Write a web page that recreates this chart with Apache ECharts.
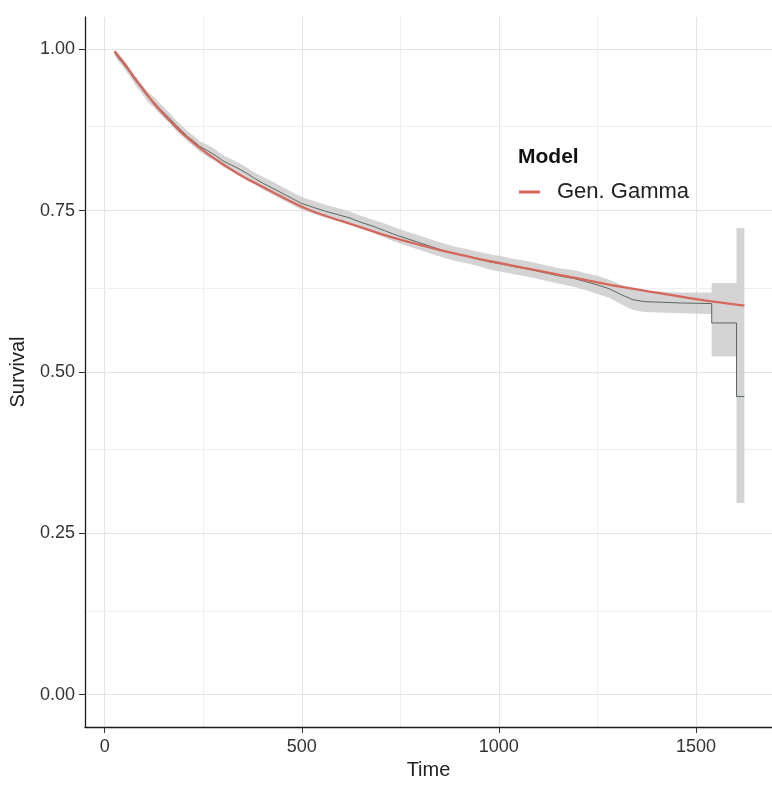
<!DOCTYPE html>
<html>
<head>
<meta charset="utf-8">
<title>Survival - Gen. Gamma</title>
<script src="https://cdn.jsdelivr.net/npm/echarts@6/dist/echarts.min.js"></script>
<style>
  html, body { margin: 0; padding: 0; background: #fff; }
  #main { width: 772px; height: 787px; }
</style>
</head>
<body>
<div id="main"></div>
<script>
// Kaplan-Meier estimate (vertices, big drops written out) and its confidence band
var kmTime = [25, 35, 45, 55, 65, 75, 85, 95, 105, 115, 125, 135, 150, 165, 180, 195, 210, 225, 240, 260,
  280, 300, 320, 340, 360, 380, 400, 425, 450, 475, 500, 530, 560, 590, 620, 650, 680, 710, 740, 770,
  800, 830, 860, 890, 920, 950, 980, 1010, 1040, 1070, 1100, 1130, 1160, 1190, 1220, 1250, 1280, 1310, 1340, 1370,
  1460, 1540, 1540, 1603, 1603, 1623];
var kmSurv = [0.995, 0.986, 0.979, 0.971, 0.963, 0.954, 0.946, 0.938, 0.930, 0.923, 0.918, 0.911, 0.902, 0.893, 0.883, 0.874, 0.865, 0.858, 0.850, 0.843,
  0.836, 0.827, 0.821, 0.815, 0.808, 0.800, 0.793, 0.785, 0.777, 0.769, 0.761, 0.755, 0.749, 0.744, 0.739, 0.732, 0.726, 0.719, 0.712, 0.706,
  0.700, 0.694, 0.688, 0.683, 0.679, 0.675, 0.670, 0.667, 0.663, 0.660, 0.656, 0.652, 0.648, 0.645, 0.640, 0.635, 0.629, 0.620, 0.612, 0.609,
  0.607, 0.606, 0.576, 0.576, 0.462, 0.462];
var kmLower = [0.991, 0.981, 0.974, 0.965, 0.957, 0.947, 0.939, 0.931, 0.922, 0.915, 0.910, 0.903, 0.894, 0.885, 0.875, 0.866, 0.857, 0.850, 0.842, 0.834,
  0.827, 0.818, 0.812, 0.806, 0.799, 0.791, 0.783, 0.775, 0.767, 0.759, 0.751, 0.745, 0.739, 0.734, 0.729, 0.722, 0.716, 0.708, 0.701, 0.695,
  0.689, 0.683, 0.677, 0.672, 0.668, 0.664, 0.658, 0.655, 0.651, 0.648, 0.644, 0.640, 0.636, 0.632, 0.627, 0.621, 0.615, 0.605, 0.596, 0.593,
  0.591, 0.590, 0.524, 0.524, 0.297, 0.297];
var kmUpper = [0.999, 0.991, 0.984, 0.977, 0.969, 0.961, 0.953, 0.945, 0.938, 0.931, 0.926, 0.919, 0.910, 0.901, 0.891, 0.882, 0.873, 0.866, 0.858, 0.852,
  0.845, 0.836, 0.830, 0.824, 0.817, 0.809, 0.803, 0.795, 0.787, 0.779, 0.771, 0.765, 0.759, 0.754, 0.749, 0.742, 0.736, 0.730, 0.723, 0.717,
  0.711, 0.705, 0.699, 0.694, 0.690, 0.686, 0.682, 0.679, 0.675, 0.672, 0.668, 0.664, 0.660, 0.658, 0.653, 0.649, 0.643, 0.635, 0.628, 0.625,
  0.623, 0.623, 0.638, 0.638, 0.723, 0.723];

// fitted generalized gamma survival curve
var ggTime = [25, 50, 75, 100, 125, 150, 175, 200, 250, 300, 350, 400, 450, 500, 550, 600, 650, 700, 750, 800,
  850, 900, 950, 1000, 1100, 1200, 1300, 1400, 1500, 1623];
var ggSurv = [0.997, 0.978, 0.956, 0.936, 0.916, 0.899, 0.883, 0.868, 0.843, 0.822, 0.803, 0.787, 0.771, 0.756, 0.744, 0.734, 0.724, 0.714, 0.705, 0.697,
  0.689, 0.682, 0.675, 0.669, 0.657, 0.645, 0.633, 0.623, 0.613, 0.603];

// axis ticks and grid
var xTicks = [0, 500, 1000, 1500];
var xMinor = [250, 750, 1250];
var yTicks = [0, 0.25, 0.5, 0.75, 1];
var yMinor = [0.125, 0.375, 0.625, 0.875];

var FONT = '"Liberation Sans", Arial, sans-serif';

var gridLines = [];
xTicks.forEach(function (v) { gridLines.push({ xAxis: v, lineStyle: { color: '#e4e4e4', width: 1, type: 'solid' } }); });
xMinor.forEach(function (v) { gridLines.push({ xAxis: v, lineStyle: { color: '#efefef', width: 1, type: 'solid' } }); });
yTicks.forEach(function (v) { gridLines.push({ yAxis: v, lineStyle: { color: '#e4e4e4', width: 1, type: 'solid' } }); });
yMinor.forEach(function (v) { gridLines.push({ yAxis: v, lineStyle: { color: '#efefef', width: 1, type: 'solid' } }); });

// ribbon between lower and upper limits
function renderBand(params, api) {
  if (params.dataIndex !== 0) return;
  var pts = [];
  for (var i = 0; i < kmTime.length; i++) {
    pts.push(api.coord([kmTime[i], kmUpper[i]]));
  }
  for (var j = kmTime.length - 1; j >= 0; j--) {
    pts.push(api.coord([kmTime[j], kmLower[j]]));
  }
  return {
    type: 'polygon',
    shape: { points: pts },
    style: { fill: 'rgba(196,196,196,0.72)', stroke: null }
  };
}

var chart = echarts.init(document.getElementById('main'), null, { renderer: 'canvas' });

var option = {
  backgroundColor: '#fff',
  animation: false,
  textStyle: { fontFamily: FONT },
  title: {
    text: 'Model',
    left: 513,
    top: 142,
    textStyle: { fontFamily: FONT, fontSize: 21, fontWeight: 'bold', color: '#111' }
  },
  legend: {
    data: ['Gen. Gamma'],
    left: 514,
    top: 176,
    icon: 'rect',
    itemWidth: 21,
    itemHeight: 3,
    textStyle: { fontFamily: FONT, fontSize: 22, color: '#222', padding: [0, 0, 0, 12] }
  },
  grid: { left: 85, right: 0, top: 17, bottom: 60 },
  xAxis: {
    type: 'value',
    z: 10,
    min: -50,
    max: 1693,
    name: 'Time',
    nameLocation: 'middle',
    nameGap: 33,
    nameTextStyle: { fontFamily: FONT, fontSize: 20, color: '#222' },
    axisLine: { show: true, onZero: false, lineStyle: { color: '#1a1a1a', width: 1.3 } },
    axisTick: { show: true, length: 6, customValues: xTicks, lineStyle: { color: '#333' } },
    axisLabel: {
      customValues: xTicks,
      margin: 11,
      fontFamily: FONT,
      fontSize: 18,
      color: '#333',
      formatter: function (v) { return String(v); }
    },
    splitLine: { show: false }
  },
  yAxis: {
    type: 'value',
    z: 10,
    min: -0.05,
    max: 1.05,
    name: 'Survival',
    nameLocation: 'middle',
    nameGap: 57,
    nameTextStyle: { fontFamily: FONT, fontSize: 20, color: '#222' },
    axisLine: { show: true, onZero: false, lineStyle: { color: '#1a1a1a', width: 1.3 } },
    axisTick: { show: true, length: 6, customValues: yTicks, lineStyle: { color: '#333' } },
    axisLabel: {
      customValues: yTicks,
      margin: 10,
      fontFamily: FONT,
      fontSize: 18,
      color: '#333',
      formatter: function (v) { return v.toFixed(2); }
    },
    splitLine: { show: false }
  },
  series: [
    {
      name: 'CI',
      type: 'custom',
      z: 2,
      silent: true,
      renderItem: renderBand,
      encode: { x: 0, y: [1, 2] },
      data: kmTime.map(function (t, i) { return [t, kmLower[i], kmUpper[i]]; })
    },
    {
      name: 'Kaplan-Meier',
      type: 'line',
      z: 3,
      showSymbol: false,
      silent: true,
      lineStyle: { color: '#5b6862', width: 1 },
      data: kmTime.map(function (t, i) { return [t, kmSurv[i]]; }),
      markLine: {
        silent: true,
        z: 1,
        symbol: 'none',
        label: { show: false },
        emphasis: { disabled: true },
        data: gridLines
      }
    },
    {
      name: 'Gen. Gamma',
      type: 'line',
      z: 4,
      smooth: 0.3,
      showSymbol: false,
      silent: true,
      color: '#d5675c',
      lineStyle: { color: '#d5675c', width: 2.3 },
      data: ggTime.map(function (t, i) { return [t, ggSurv[i]]; })
    }
  ]
};

chart.setOption(option);
</script>
</body>
</html>
